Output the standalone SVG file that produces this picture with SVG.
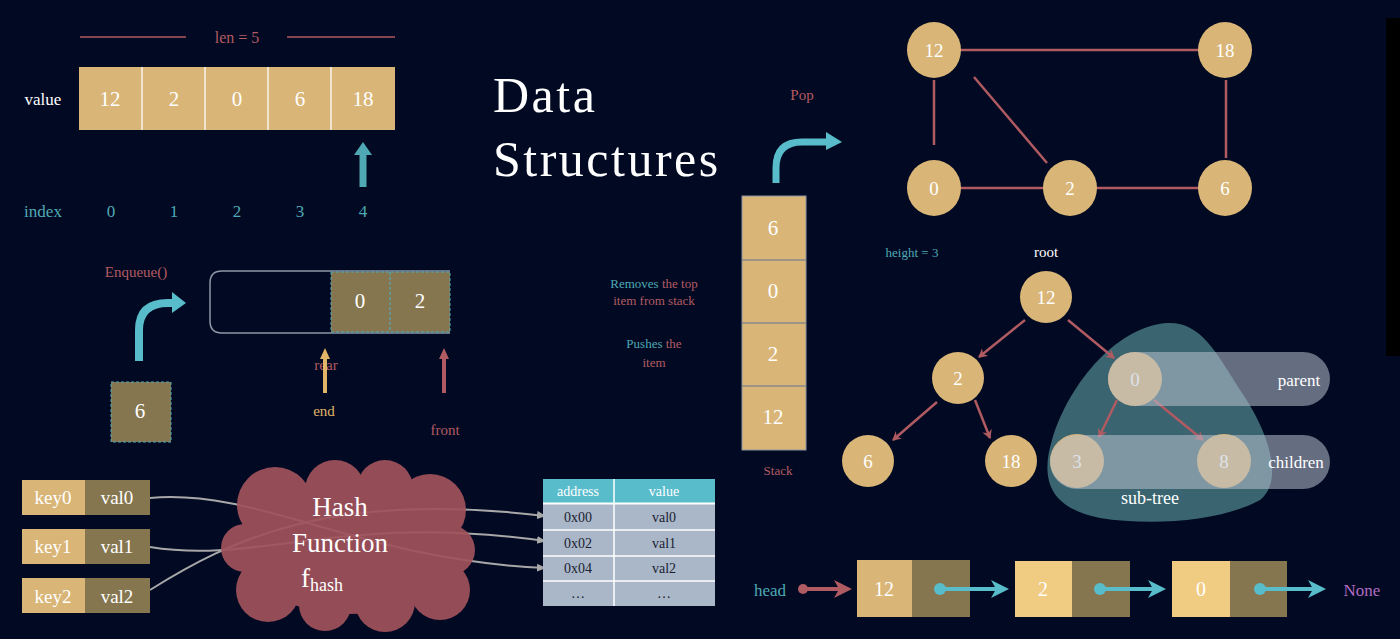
<svg xmlns="http://www.w3.org/2000/svg" width="1400" height="639" viewBox="0 0 1400 639" font-size="20">
<style>
text{font-family:"Liberation Serif","DejaVu Serif",serif;}
.w{fill:#ffffff;}
.num{fill:#ffffff;text-anchor:middle;dominant-baseline:central;}
.lbl{text-anchor:middle;dominant-baseline:central;}
.red{fill:#b35a62;}
.teal{fill:#4fa9b5;}
.tan{fill:#d9b577;}
.ltan{fill:#f0cb82;}
.olive{fill:#85764f;}
.gedge{stroke:#b05a62;stroke-width:2.5;fill:none;}
.tedge{stroke:#b05a62;stroke-width:2.5;fill:none;marker-end:url(#ra);}
.hline{stroke:#a8a8a8;stroke-width:2;fill:none;marker-end:url(#ga);}
.cell{text-anchor:middle;dominant-baseline:central;}
</style>
<defs>
<marker id="ra" markerWidth="10" markerHeight="10" refX="8" refY="5" orient="auto" markerUnits="userSpaceOnUse">
<path d="M0,0 L9,5 L0,10 L3,5 Z" fill="#b05a62"/>
</marker>
<marker id="ga" markerWidth="10" markerHeight="10" refX="8" refY="5" orient="auto" markerUnits="userSpaceOnUse">
<path d="M0,1 L9,5 L0,9 Z" fill="#a8a8a8"/>
</marker>
<marker id="ta" markerWidth="22" markerHeight="22" refX="14" refY="11" orient="auto" markerUnits="userSpaceOnUse">
<path d="M0,2 L18,11 L0,20 L5,11 Z" fill="#59bccb"/>
</marker>
<marker id="rda" markerWidth="22" markerHeight="22" refX="14" refY="11" orient="auto" markerUnits="userSpaceOnUse">
<path d="M0,2 L18,11 L0,20 L5,11 Z" fill="#b05a62"/>
</marker>
</defs>
<rect width="1400" height="639" fill="#010a22"/>
<rect x="1386" y="18" width="14" height="338" fill="#000000"/>

<!-- Title -->
<g id="title">
<text x="493" y="112" font-size="50" letter-spacing="2.5" class="w">Data</text>
<text x="493" y="176" font-size="50" letter-spacing="2.5" class="w">Structures</text>
</g>

<!-- Array -->
<g id="array">
<line x1="80" y1="37" x2="186" y2="37" stroke="#b05a62" stroke-width="1.5"/>
<line x1="287" y1="37" x2="395" y2="37" stroke="#b05a62" stroke-width="1.5"/>
<text x="237" y="37" class="lbl red" font-size="16">len = 5</text>
<text x="43" y="99" class="lbl w" font-size="17">value</text>
<rect x="79" y="67" width="316" height="63" fill="#d9b577"/>
<g stroke="#ffffff" stroke-width="1.5" opacity="0.85">
<line x1="142" y1="67" x2="142" y2="130"/><line x1="205" y1="67" x2="205" y2="130"/>
<line x1="268" y1="67" x2="268" y2="130"/><line x1="331" y1="67" x2="331" y2="130"/>
</g>
<text x="110" y="99" class="num" font-size="21">12</text><text x="174" y="99" class="num" font-size="21">2</text>
<text x="237" y="99" class="num" font-size="21">0</text><text x="300" y="99" class="num" font-size="21">6</text>
<text x="363" y="99" class="num" font-size="21">18</text>
<path d="M363,187 L363,152" stroke="#4fa9b5" stroke-width="7"/>
<path d="M354,155 L363,142 L372,155 Z" fill="#4fa9b5"/>
<text x="43" y="211" class="lbl teal" font-size="17">index</text>
<text x="111" y="211" class="lbl teal" font-size="17">0</text>
<text x="174" y="211" class="lbl teal" font-size="17">1</text>
<text x="237" y="211" class="lbl teal" font-size="17">2</text>
<text x="300" y="211" class="lbl teal" font-size="17">3</text>
<text x="363" y="211" class="lbl teal" font-size="17">4</text>
</g>

<!-- Queue -->
<g id="queue">
<text x="136" y="272" class="lbl red" font-size="15">Enqueue()</text>
<path d="M450,271 L222,271 Q210,271 210,283 L210,321 Q210,333 222,333 L450,333" stroke="#8f98a6" stroke-width="1.5" fill="none"/>
<rect x="331" y="272" width="119" height="60" fill="#85764f"/>
<line x1="390" y1="272" x2="390" y2="332" stroke="#4fa9b5" stroke-width="1.2" stroke-dasharray="3,2"/>
<rect x="331" y="272" width="119" height="60" fill="none" stroke="#4fa9b5" stroke-width="1" stroke-dasharray="3,2"/>
<text x="360" y="301" class="num" font-size="21">0</text><text x="420" y="301" class="num" font-size="21">2</text>
<path d="M139,361 L139,330 Q139,303 168,303 L176,303" stroke="#59bccb" stroke-width="8" fill="none"/>
<path d="M172,292 L186,303 L172,313 Z" fill="#59bccb"/>
<rect x="111" y="382" width="60" height="60" fill="#85764f" stroke="#4fa9b5" stroke-width="1" stroke-dasharray="3,2"/>
<text x="140" y="411" class="num" font-size="21">6</text>
<text x="326" y="365" class="lbl red" font-size="15">rear</text>
<path d="M325,393 L325,356" stroke="#e0b567" stroke-width="4"/>
<path d="M320,359 L325,348 L330,359 Z" fill="#e0b567"/>
<text x="324" y="411" class="lbl" fill="#e0b567" font-size="15">end</text>
<path d="M444,393 L444,356" stroke="#b05a62" stroke-width="4"/>
<path d="M439,359 L444,348 L449,359 Z" fill="#b05a62"/>
<text x="445" y="430" class="lbl red" font-size="15">front</text>
</g>

<!-- Hash -->
<g id="hash-connectors">
<path class="hline" d="M150,498 C260,488 360,560 545,568"/>
<path class="hline" d="M150,547 C260,565 340,512 545,541"/>
<path class="hline" d="M150,590 C230,540 330,490 545,516"/>
</g>
<g id="hash-function">
<g fill="#a0525c" opacity="0.93">
<ellipse cx="348" cy="546" rx="108" ry="68"/>
<circle cx="275" cy="505" r="38"/>
<circle cx="335" cy="490" r="30"/>
<circle cx="385" cy="488" r="28"/>
<circle cx="430" cy="510" r="36"/>
<circle cx="450" cy="550" r="25"/>
<circle cx="440" cy="590" r="30"/>
<circle cx="385" cy="602" r="30"/>
<circle cx="325" cy="605" r="26"/>
<circle cx="268" cy="590" r="32"/>
<circle cx="245" cy="548" r="24"/>
</g>
<text x="340" y="507" class="num" font-size="27">Hash</text>
<text x="340" y="543" class="num" font-size="27">Function</text>
<text x="322" y="578" class="num" font-size="27">f<tspan font-size="18" dy="7">hash</tspan></text>
</g>
<g id="hash-keys">
<rect x="22" y="480" width="63" height="35" fill="#d9b577"/><rect x="85" y="480" width="65" height="35" fill="#85764f"/>
<text x="53" y="497" class="cell w" font-size="19">key0</text><text x="117" y="497" class="cell w" font-size="19">val0</text>
<rect x="22" y="529" width="63" height="35" fill="#d9b577"/><rect x="85" y="529" width="65" height="35" fill="#85764f"/>
<text x="53" y="546" class="cell w" font-size="19">key1</text><text x="117" y="546" class="cell w" font-size="19">val1</text>
<rect x="22" y="578" width="63" height="35" fill="#d9b577"/><rect x="85" y="578" width="65" height="35" fill="#85764f"/>
<text x="53" y="596" class="cell w" font-size="19">key2</text><text x="117" y="596" class="cell w" font-size="19">val2</text>
</g>
<g id="hash-table">
<rect x="543" y="479" width="172" height="24" fill="#59bccb"/>
<rect x="543" y="504" width="172" height="102" fill="#a9b7c9"/>
<g stroke="#ffffff" stroke-width="1.5">
<line x1="543" y1="503.5" x2="715" y2="503.5" stroke-width="2"/>
<line x1="543" y1="530" x2="715" y2="530"/><line x1="543" y1="556" x2="715" y2="556"/>
<line x1="543" y1="581" x2="715" y2="581"/><line x1="614" y1="479" x2="614" y2="606"/>
</g>
<text x="578" y="491" class="cell w" font-size="14">address</text>
<text x="664" y="491" class="cell w" font-size="14">value</text>
<g fill="#1c2230">
<text x="578" y="517" class="cell" font-size="14">0x00</text><text x="664" y="517" class="cell" font-size="14">val0</text>
<text x="578" y="543" class="cell" font-size="14">0x02</text><text x="664" y="543" class="cell" font-size="14">val1</text>
<text x="578" y="568" class="cell" font-size="14">0x04</text><text x="664" y="568" class="cell" font-size="14">val2</text>
<text x="578" y="593" class="cell" font-size="14">…</text><text x="664" y="593" class="cell" font-size="14">…</text>
</g>
</g>

<!-- Stack -->
<g id="stack">
<text x="802" y="95" class="lbl red" font-size="15">Pop</text>
<path d="M776,183 L776,168 Q776,142 802,142 L828,142" stroke="#59bccb" stroke-width="7" fill="none"/>
<path d="M826,132 L842,142 L826,150 Z" fill="#59bccb"/>
<rect x="742" y="196" width="64" height="254" fill="#d9b577" stroke="#8a95a5" stroke-width="1"/>
<g stroke="#8a8a8a" stroke-width="1.5">
<line x1="742" y1="260" x2="806" y2="260"/><line x1="742" y1="323" x2="806" y2="323"/><line x1="742" y1="386" x2="806" y2="386"/>
</g>
<text x="773" y="228" class="num" font-size="21">6</text><text x="773" y="291" class="num" font-size="21">0</text>
<text x="773" y="354" class="num" font-size="21">2</text><text x="773" y="417" class="num" font-size="21">12</text>
<text x="654" y="283" class="lbl" font-size="13"><tspan fill="#4fa9b5">Removes</tspan><tspan fill="#b35a62"> the top</tspan></text>
<text x="654" y="300" class="lbl red" font-size="13">item from stack</text>
<text x="654" y="343" class="lbl" font-size="13"><tspan fill="#4fa9b5">Pushes</tspan><tspan fill="#b35a62"> the</tspan></text>
<text x="654" y="362" class="lbl red" font-size="13">item</text>
<text x="778" y="470" class="lbl red" font-size="13">Stack</text>
</g>

<!-- Graph -->
<g id="graph-edges">
<line class="gedge" x1="960" y1="50" x2="1199" y2="50"/>
<line class="gedge" x1="934" y1="80" x2="934" y2="145" stroke="#6e3a44"/>
<line class="gedge" x1="974" y1="77" x2="1047" y2="163"/>
<line class="gedge" x1="960" y1="188" x2="1044" y2="188"/>
<line class="gedge" x1="1096" y1="188" x2="1199" y2="188"/>
<line class="gedge" x1="1226" y1="80" x2="1226" y2="158"/>
</g>
<g id="g12"><ellipse cx="934" cy="50" rx="27" ry="28" class="tan"/><text x="934" y="50" class="num" font-size="19">12</text></g>
<g id="g18"><ellipse cx="1225" cy="50" rx="27" ry="28" class="tan"/><text x="1225" y="50" class="num" font-size="19">18</text></g>
<g id="g0"><ellipse cx="934" cy="188" rx="27" ry="28" class="tan"/><text x="934" y="188" class="num" font-size="19">0</text></g>
<g id="g2"><ellipse cx="1070" cy="188" rx="27" ry="28" class="tan"/><text x="1070" y="188" class="num" font-size="19">2</text></g>
<g id="g6"><ellipse cx="1225" cy="188" rx="27" ry="28" class="tan"/><text x="1225" y="188" class="num" font-size="19">6</text></g>

<!-- Tree -->
<g id="tree-labels">
<text x="912" y="252" class="lbl teal" font-size="13">height = 3</text>
<text x="1046" y="252" class="lbl w" font-size="15">root</text>
</g>
<g id="subtree">
<path d="M1168,323 C1120,325 1070,380 1052,440 C1040,480 1050,508 1100,518 C1150,526 1220,522 1260,500 C1285,480 1268,430 1240,390 C1215,350 1200,322 1168,323 Z" fill="#3a6570"/>
</g>
<g id="tree-edges">
<line class="tedge" x1="1025" y1="320" x2="979" y2="357"/>
<line class="tedge" x1="1068" y1="320" x2="1114" y2="358"/>
<line class="tedge" x1="937" y1="402" x2="893" y2="440"/>
<line class="tedge" x1="975" y1="400" x2="990" y2="438"/>
<line class="tedge" x1="1117" y1="400" x2="1099" y2="437"/>
<line class="tedge" x1="1154" y1="400" x2="1203" y2="440"/>
</g>
<g id="t12"><circle cx="1046" cy="297" r="26" class="tan"/><text x="1046" y="297" class="num" font-size="19">12</text></g>
<g id="t2"><circle cx="958" cy="378" r="26" class="tan"/><text x="958" y="378" class="num" font-size="19">2</text></g>
<g id="t0"><circle cx="1135" cy="379" r="27" class="tan"/></g>
<g id="t6"><circle cx="868" cy="461" r="26" class="tan"/><text x="868" y="461" class="num" font-size="19">6</text></g>
<g id="t18"><circle cx="1011" cy="461" r="26" class="tan"/><text x="1011" y="461" class="num" font-size="19">18</text></g>
<g id="t3"><circle cx="1077" cy="461" r="27" class="tan"/></g>
<g id="t8"><circle cx="1224" cy="461" r="27" class="tan"/></g>
<g id="parent-band">
<rect x="1108" y="352" width="222" height="54" rx="27" fill="#b8c0ce" opacity="0.55"/>
<text x="1299" y="380" class="lbl w" font-size="17">parent</text>
</g>
<g id="children-band">
<rect x="1050" y="435" width="280" height="54" rx="27" fill="#b8c0ce" opacity="0.55"/>
<text x="1296" y="462" class="lbl w" font-size="17">children</text>
</g>
<text x="1135" y="379" class="num" font-size="19" style="fill:#dde2ea">0</text>
<text x="1077" y="461" class="num" font-size="19" style="fill:#dde2ea">3</text>
<text x="1224" y="461" class="num" font-size="19" style="fill:#dde2ea">8</text>
<text x="1150" y="498" class="lbl w" font-size="18">sub-tree</text>

<!-- Linked list -->
<g id="list-connectors">
<line x1="803" y1="589" x2="848" y2="589" stroke="#b05a62" stroke-width="4" marker-end="url(#rda)"/>
<circle cx="803" cy="589" r="5" fill="#b05a62"/>
<line x1="940" y1="589" x2="1005" y2="589" stroke="#59bccb" stroke-width="4" marker-end="url(#ta)"/>
<line x1="1100" y1="589" x2="1162" y2="589" stroke="#59bccb" stroke-width="4" marker-end="url(#ta)"/>
<line x1="1260" y1="589" x2="1322" y2="589" stroke="#59bccb" stroke-width="4" marker-end="url(#ta)"/>
</g>
<text x="770" y="590" class="lbl teal" font-size="17">head</text>
<g id="ln12"><rect x="857" y="560" width="55" height="57" class="tan"/><rect x="912" y="560" width="58" height="57" class="olive"/><text x="884" y="589" class="num" font-size="20">12</text></g>
<g id="ln2"><rect x="1015" y="561" width="57" height="56" class="ltan"/><rect x="1072" y="561" width="58" height="56" class="olive"/><text x="1043" y="589" class="num" font-size="20">2</text></g>
<g id="ln0"><rect x="1172" y="561" width="58" height="56" class="ltan"/><rect x="1230" y="561" width="57" height="56" class="olive"/><text x="1201" y="589" class="num" font-size="20">0</text></g>
<g id="list-pointers">
<line x1="940" y1="589" x2="970" y2="589" stroke="#59bccb" stroke-width="4"/>
<circle cx="940" cy="589" r="6" fill="#59bccb"/>
<line x1="1100" y1="589" x2="1130" y2="589" stroke="#59bccb" stroke-width="4"/>
<circle cx="1100" cy="589" r="6" fill="#59bccb"/>
<line x1="1260" y1="589" x2="1287" y2="589" stroke="#59bccb" stroke-width="4"/>
<circle cx="1260" cy="589" r="6" fill="#59bccb"/>
</g>
<text x="1362" y="590" class="lbl" fill="#b36cc4" font-size="17">None</text>
</svg>
